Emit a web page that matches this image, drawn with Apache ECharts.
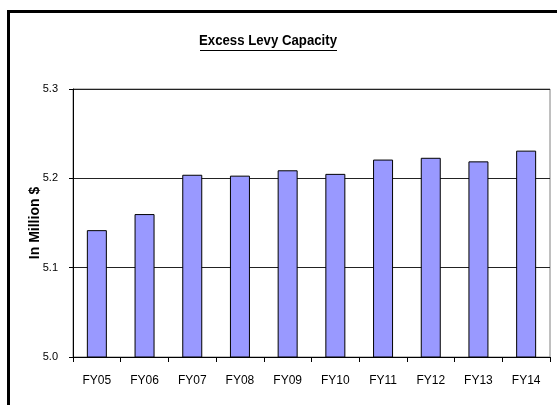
<!DOCTYPE html>
<html>
<head>
<meta charset="utf-8">
<script src="https://cdn.jsdelivr.net/npm/echarts@6/dist/echarts.min.js"></script>
<style>
  html, body { margin: 0; padding: 0; background: #fff; }
  #chart { width: 557px; height: 405px; }
</style>
</head>
<body>
<div id="chart"></div>
<script>
// Excess levy capacity by fiscal year, in million dollars
const categories = ['FY05', 'FY06', 'FY07', 'FY08', 'FY09', 'FY10', 'FY11', 'FY12', 'FY13', 'FY14'];
const levyCapacity = [5.142, 5.160, 5.204, 5.203, 5.209, 5.205, 5.221, 5.223, 5.219, 5.231];
const yTicks = [5.0, 5.1, 5.2, 5.3];

const chartTitle = 'Excess Levy Capacity';
const yAxisTitle = 'In Million $';

const sans = '"Liberation Sans", Arial, sans-serif';

const chart = echarts.init(document.getElementById('chart'), null, { renderer: 'canvas' });

chart.setOption({
  animation: false,
  backgroundColor: '#fff',
  grid: { left: 73, right: 7, top: 89, bottom: 48, containLabel: false,
          show: true, borderColor: '#808080', borderWidth: 1, backgroundColor: 'transparent' },
  graphic: [
    // outer frame
    { type: 'rect', silent: true, z: 100,
      shape: { x: 8.5, y: 11.5, width: 700, height: 600 },
      style: { fill: 'none', stroke: '#000', lineWidth: 3 } },
    // title, slightly condensed, with underline
    { type: 'text', z: 100, x: 268, y: 48, scaleX: 0.88,
      style: { text: chartTitle, x: 0, y: 0, textAlign: 'center', textVerticalAlign: 'bottom',
               font: 'bold 15px ' + sans, fill: '#000' } },
    { type: 'line', z: 100, silent: true,
      shape: { x1: 200, y1: 50.5, x2: 337, y2: 50.5 },
      style: { stroke: '#000', lineWidth: 1 } }
  ],
  xAxis: {
    type: 'category',
    data: categories,
    boundaryGap: true,
    axisLine: { show: true, lineStyle: { color: '#000', width: 1 } },
    axisTick: { show: true, inside: false, length: 5, alignWithLabel: false, lineStyle: { color: '#000' } },
    axisLabel: { color: '#000', fontFamily: sans, fontSize: 12, margin: 18 },
    splitLine: { show: false }
  },
  yAxis: {
    type: 'value',
    min: yTicks[0],
    max: yTicks[yTicks.length - 1],
    interval: 0.1,
    name: yAxisTitle,
    nameLocation: 'middle',
    nameRotate: 90,
    nameGap: 31,
    nameMoveOverlap: false,
    nameTextStyle: { color: '#000', fontFamily: sans, fontWeight: 'bold', fontSize: 14 },
    axisLine: { show: true, lineStyle: { color: '#000', width: 1 } },
    axisTick: { show: true, inside: false, length: 4, lineStyle: { color: '#000' } },
    axisLabel: { color: '#000', fontFamily: sans, fontSize: 11, margin: 15,
                 formatter: v => v.toFixed(1) },
    splitLine: { show: true, lineStyle: { color: '#222', width: 1 } }
  },
  series: [{
    type: 'bar',
    data: levyCapacity,
    barWidth: 20,
    itemStyle: { color: '#9999FF', borderColor: '#000', borderWidth: 1 }
  }]
});
</script>
</body>
</html>
